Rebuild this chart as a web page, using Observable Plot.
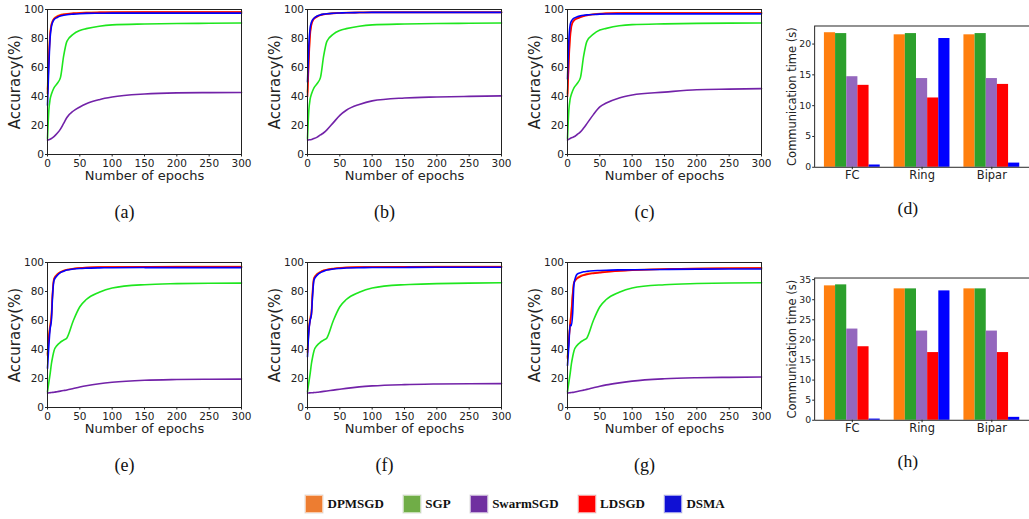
<!DOCTYPE html>
<html>
<head>
<meta charset="utf-8">
<script src="https://cdn.jsdelivr.net/npm/d3@7"></script>
<script src="https://cdn.jsdelivr.net/npm/@observablehq/plot@0.6"></script>
<style>
  html, body { margin: 0; padding: 0; background: #fff; }
  body { width: 1029px; height: 519px; overflow: hidden; position: relative; font-family: "DejaVu Sans", sans-serif; }
  .panel { position: absolute; }
  .panel svg { overflow: visible; }
  #legend { position: absolute; left: 305px; top: 495px; display: flex; align-items: center; gap: 19px;
            font-family: "Liberation Serif", "Times New Roman", serif; font-weight: bold; font-size: 13px; color: #111; }
  #legend .item { display: flex; align-items: center; gap: 4.5px; }
  #legend .sw { width: 16px; height: 16px; border: 0.7px solid rgba(255,255,255,0.6); box-shadow: 0 0 0 0.5px #ddd; }
</style>
</head>
<body>
<div id="pa" class="panel" style="left:0px;top:0px"></div>
<div id="pb" class="panel" style="left:260px;top:0px"></div>
<div id="pc" class="panel" style="left:520px;top:0px"></div>
<div id="pd" class="panel" style="left:770px;top:0px"></div>
<div id="pe" class="panel" style="left:0px;top:253px"></div>
<div id="pf" class="panel" style="left:260px;top:253px"></div>
<div id="pg" class="panel" style="left:520px;top:253px"></div>
<div id="ph" class="panel" style="left:770px;top:253px"></div>
<div id="legend"></div>
<script>
// ---------- data ----------
const methods = ["DPMSGD", "SGP", "SwarmSGD", "LDSGD", "DSMA"];
const legendColors = ["#ed7d31", "#70ad47", "#7030a0", "#ff0000", "#1010d4"];
const barColors = ["#ff7f0e", "#2ca02c", "#9467bd", "#ff0000", "#0000ff"];
const lineColors = ["#ff7f0e", "#1ee61e", "#7222a8", "#ff0000", "#0000ff"];
const lineOrder = ["DPMSGD", "LDSGD", "DSMA", "SGP", "SwarmSGD"];

const epochs = [0, 2, 4, 6, 8, 10, 15, 20, 25, 30, 40, 50, 60, 80, 100, 150, 200, 250, 300];
const epochTicks = [0, 50, 100, 150, 200, 250, 300];
const accTicks = [0, 20, 40, 60, 80, 100];

// panel (a)
const a_DPMSGD   = [45, 68, 84, 90, 92.3, 93.8, 95.5, 96.3, 96.8, 97.1, 97.5, 97.8, 98, 98.1, 98.2, 98.3, 98.3, 98.3, 98.3];
const a_LDSGD    = [42, 65, 82, 89, 91.8, 93.4, 95, 96, 96.5, 96.9, 97.3, 97.6, 97.8, 98, 98.1, 98.2, 98.2, 98.2, 98.2];
const a_DSMA     = [34, 60, 80, 88, 91.3, 93, 94.5, 95.5, 96, 96.4, 96.8, 97.1, 97.3, 97.4, 97.5, 97.5, 97.5, 97.5, 97.5];
const a_SGP      = [11, 30, 38, 41.5, 44, 46, 49, 53, 68, 78, 83, 85.5, 86.8, 88.5, 89.4, 90, 90.3, 90.5, 90.7];
const a_SwarmSGD = [10, 10.2, 10.5, 11, 11.6, 12.3, 14.6, 17.5, 21.5, 25.5, 30, 32.8, 35, 37.8, 39.6, 41.7, 42.5, 42.7, 42.8];
// panel (b)
const b_DPMSGD   = [43, 67, 84, 90, 92.5, 94, 95.5, 96.3, 96.8, 97.1, 97.5, 97.7, 97.9, 98, 98.1, 98.2, 98.2, 98.2, 98.2];
const b_LDSGD    = [40, 64, 82, 89, 92, 93.5, 95, 96, 96.5, 96.9, 97.3, 97.6, 97.8, 97.9, 98, 98, 98, 98, 98];
const b_DSMA     = [50, 75, 87, 91, 93, 94, 95.5, 96.3, 96.8, 97.1, 97.4, 97.6, 97.8, 97.9, 98, 98, 98, 98, 98];
const b_SGP      = [11, 30, 38, 41.5, 44, 46, 49, 53, 68, 78, 83, 85.5, 86.8, 88.5, 89.4, 90, 90.3, 90.5, 90.7];
const b_SwarmSGD = [10, 10.1, 10.2, 10.4, 10.7, 11, 12, 13.5, 15, 17, 22, 27, 30.5, 34.5, 37, 39, 39.7, 40.1, 40.4];
// panel (c)
const c_DPMSGD   = [42, 66, 83, 89, 91.5, 92.8, 94.2, 95, 95.7, 96.2, 96.8, 97.2, 97.4, 97.6, 97.7, 97.8, 97.8, 97.8, 97.8];
const c_LDSGD    = [40, 63, 80, 88, 91, 92.3, 93.8, 94.6, 95.3, 95.9, 96.6, 97, 97.3, 97.5, 97.6, 97.6, 97.6, 97.6, 97.6];
const c_DSMA     = [52, 78, 89, 92, 93.3, 94, 95, 95.6, 96, 96.3, 96.6, 96.8, 96.9, 97, 97, 97, 97, 97, 97];
const c_SGP      = [11, 30, 38, 41.5, 44, 46, 49, 53, 68, 78, 83, 85.8, 87, 88.8, 89.6, 90.1, 90.4, 90.6, 90.7];
const c_SwarmSGD = [10, 10.5, 11, 11.5, 11.8, 12.2, 13.8, 15.6, 18.3, 21.3, 27.5, 32.8, 35.5, 39, 41, 43, 44.7, 45.1, 45.4];
// panel (e)
const e_DPMSGD   = [37, 50, 57, 64, 80, 89, 92, 93.5, 94.5, 95.1, 95.8, 96.3, 96.6, 96.9, 97, 97.1, 97.2, 97.2, 97.2];
const e_LDSGD    = [36, 48, 55, 62, 80, 88.5, 91.5, 93.3, 94.3, 95, 95.7, 96.2, 96.5, 96.8, 96.9, 97, 97, 97, 97];
const e_DSMA     = [27, 42, 54, 60, 78, 87.5, 91, 93, 94, 94.8, 95.5, 95.9, 96.1, 96.3, 96.4, 96.5, 96.5, 96.5, 96.5];
const e_SGP      = [11, 17, 23, 30, 35, 39, 43, 45, 46.5, 48, 60, 69.5, 74.5, 79.5, 82.4, 84.7, 85.4, 85.7, 85.8];
const e_SwarmSGD = [10, 10.1, 10.2, 10.3, 10.4, 10.5, 10.9, 11.3, 11.7, 12.1, 13.1, 14.1, 15, 16.4, 17.4, 18.8, 19.3, 19.5, 19.6];
// panel (f)
const f_DPMSGD   = [40, 55, 62, 66, 82, 89.5, 92.3, 93.7, 94.6, 95.2, 95.9, 96.4, 96.7, 96.9, 97, 97.1, 97.2, 97.2, 97.2];
const f_LDSGD    = [38, 53, 60, 64, 80, 89, 91.8, 93.4, 94.4, 95, 95.7, 96.2, 96.5, 96.8, 96.9, 97, 97, 97, 97];
const f_DSMA     = [35, 52, 60, 64, 78, 88, 91.3, 93, 94, 94.8, 95.5, 95.9, 96.2, 96.4, 96.5, 96.6, 96.7, 96.7, 96.7];
const f_SGP      = [11, 17, 23, 30, 35, 39, 43, 45, 46.5, 48, 60, 69.5, 74.5, 79.5, 82.4, 84.7, 85.4, 85.8, 86];
const f_SwarmSGD = [10, 10.05, 10.1, 10.15, 10.2, 10.3, 10.5, 10.8, 11.1, 11.4, 12, 12.6, 13.2, 14.2, 14.9, 15.8, 16.2, 16.4, 16.5];
// panel (g)
const g_DPMSGD   = [35, 47, 58, 67, 79, 86.5, 89.5, 90.8, 91.6, 92.2, 92.8, 93.3, 93.7, 94.3, 94.8, 95.5, 95.9, 96.1, 96.3];
const g_LDSGD    = [34, 46, 57, 66, 78, 86, 89, 90.3, 91.2, 91.8, 92.5, 93, 93.5, 94.2, 94.7, 95.4, 95.8, 96, 96.2];
const g_DSMA     = [29, 42, 57, 56.5, 65, 85, 92, 93, 93.6, 93.9, 94.3, 94.5, 94.7, 94.9, 95, 95.2, 95.4, 95.5, 95.5];
const g_SGP      = [11, 17, 23, 30, 35, 39, 43, 45, 46.5, 48, 60, 69.5, 74.5, 79.5, 82.4, 84.7, 85.5, 85.9, 86];
const g_SwarmSGD = [10, 10.1, 10.2, 10.3, 10.4, 10.5, 11, 11.5, 12, 12.5, 13.6, 14.7, 15.6, 17, 18.2, 19.8, 20.5, 20.8, 21];

// communication time bars
const topologies = ["FC", "Ring", "Bipar"];
const d_DPMSGD   = [21.84, 21.5, 21.5];
const d_SGP      = [21.7, 21.7, 21.7];
const d_SwarmSGD = [14.7, 14.4, 14.4];
const d_LDSGD    = [13.3, 11.25, 13.45];
const d_DSMA     = [0.37, 20.9, 0.68];
const dTicks = [0, 5, 10, 15, 20];
const h_DPMSGD   = [33.45, 32.7, 32.7];
const h_SGP      = [33.7, 32.7, 32.7];
const h_SwarmSGD = [22.7, 22.2, 22.2];
const h_LDSGD    = [18.3, 16.85, 16.85];
const h_DSMA     = [0.3, 32.2, 0.73];
const hTicks = [0, 5, 10, 15, 20, 25, 30, 35];

// ---------- drawing ----------
const axisStyle = {fontFamily: "DejaVu Sans", fontSize: "10.5px", color: "#222", background: "transparent", overflow: "visible"};

function linePanel(id, label, series) {
  const data = [];
  lineOrder.forEach(m => series[m].forEach((v, i) => data.push({epoch: epochs[i], acc: v, method: m})));
  const chart = Plot.plot({
    width: 260, height: 230,
    marginLeft: 47, marginRight: 19, marginTop: 9, marginBottom: 76,
    style: axisStyle,
    x: {domain: [0, 300]},
    y: {domain: [0, 100]},
    color: {domain: methods, range: lineColors},
    marks: [
      Plot.line(data, {x: "epoch", y: "acc", z: "method", stroke: "method", strokeWidth: 1.6, curve: "monotone-x"}),
      Plot.frame({stroke: "#222", strokeWidth: 1}),
      Plot.axisX({ticks: epochTicks, tickSize: 2.5, tickPadding: 2.5, label: null, fontSize: 10.5}),
      Plot.axisY({ticks: accTicks, tickSize: 2, tickPadding: 1.5, label: null, fontSize: 10.5}),
      Plot.text(["Number of epochs"], {frameAnchor: "bottom", lineAnchor: "middle", textAnchor: "middle", dy: 21, fontSize: 13, fill: "#222"}),
      Plot.text(["Accuracy(%)"], {frameAnchor: "left", lineAnchor: "middle", textAnchor: "middle", dx: -32, rotate: -90, fontSize: 15, fill: "#222"}),
      Plot.text([label], {frameAnchor: "bottom", lineAnchor: "middle", textAnchor: "middle", dx: -20, dy: 58, fontSize: 18, fontFamily: "Liberation Serif", fill: "#111"})
    ]
  });
  document.getElementById(id).appendChild(chart);
}

function barPanel(id, label, series, top, ticks, mTop) {
  const data = [];
  methods.forEach((m, si) => series[m].forEach((v, gi) => data.push({gi, si, method: m, value: v})));
  const w = 0.16;
  const chart = Plot.plot({
    width: 264, height: 230,
    marginLeft: 45, marginRight: 0, marginTop: mTop, marginBottom: 60,
    style: axisStyle,
    x: {type: "linear", domain: [-0.54, 2.54]},
    y: {domain: [0, top]},
    color: {domain: methods, range: barColors},
    marks: [
      Plot.rect(data, {x1: d => d.gi + (d.si - 2) * w - w / 2, x2: d => d.gi + (d.si - 2) * w + w / 2,
                       y1: d => 0, y2: "value", fill: "method"}),
      Plot.frame({stroke: "#222", strokeWidth: 1}),
      Plot.axisX({ticks: [0, 1, 2], tickFormat: i => topologies[i], tickSize: 2.5, tickPadding: 1.5, label: null, fontSize: 11.7}),
      Plot.axisY({ticks: ticks, tickSize: 2, tickPadding: 1.5, label: null, fontSize: 9.5}),
      Plot.text(["Communication time (s)"], {frameAnchor: "left", lineAnchor: "middle", textAnchor: "middle", dx: -23, rotate: -90, fontSize: 11.7, fill: "#222"}),
      Plot.text([label], {frameAnchor: "bottom", lineAnchor: "middle", textAnchor: "middle", dx: -14.5, dy: 42, fontSize: 18, fontFamily: "Liberation Serif", fill: "#111"})
    ]
  });
  document.getElementById(id).appendChild(chart);
}

linePanel("pa", "(a)", {DPMSGD: a_DPMSGD, LDSGD: a_LDSGD, DSMA: a_DSMA, SGP: a_SGP, SwarmSGD: a_SwarmSGD});
linePanel("pb", "(b)", {DPMSGD: b_DPMSGD, LDSGD: b_LDSGD, DSMA: b_DSMA, SGP: b_SGP, SwarmSGD: b_SwarmSGD});
linePanel("pc", "(c)", {DPMSGD: c_DPMSGD, LDSGD: c_LDSGD, DSMA: c_DSMA, SGP: c_SGP, SwarmSGD: c_SwarmSGD});
linePanel("pe", "(e)", {DPMSGD: e_DPMSGD, LDSGD: e_LDSGD, DSMA: e_DSMA, SGP: e_SGP, SwarmSGD: e_SwarmSGD});
linePanel("pf", "(f)", {DPMSGD: f_DPMSGD, LDSGD: f_LDSGD, DSMA: f_DSMA, SGP: f_SGP, SwarmSGD: f_SwarmSGD});
linePanel("pg", "(g)", {DPMSGD: g_DPMSGD, LDSGD: g_LDSGD, DSMA: g_DSMA, SGP: g_SGP, SwarmSGD: g_SwarmSGD});
barPanel("pd", "(d)", {DPMSGD: d_DPMSGD, SGP: d_SGP, SwarmSGD: d_SwarmSGD, LDSGD: d_LDSGD, DSMA: d_DSMA}, 22.93, dTicks, 26);
barPanel("ph", "(h)", {DPMSGD: h_DPMSGD, SGP: h_SGP, SwarmSGD: h_SwarmSGD, LDSGD: h_LDSGD, DSMA: h_DSMA}, 35.4, hTicks, 25);

// legend
const legend = document.getElementById("legend");
methods.forEach((m, i) => {
  const item = document.createElement("div");
  item.className = "item";
  const sw = document.createElement("div");
  sw.className = "sw";
  sw.style.background = legendColors[i];
  const tx = document.createElement("span");
  tx.textContent = m;
  item.appendChild(sw);
  item.appendChild(tx);
  legend.appendChild(item);
});
</script>
</body>
</html>
